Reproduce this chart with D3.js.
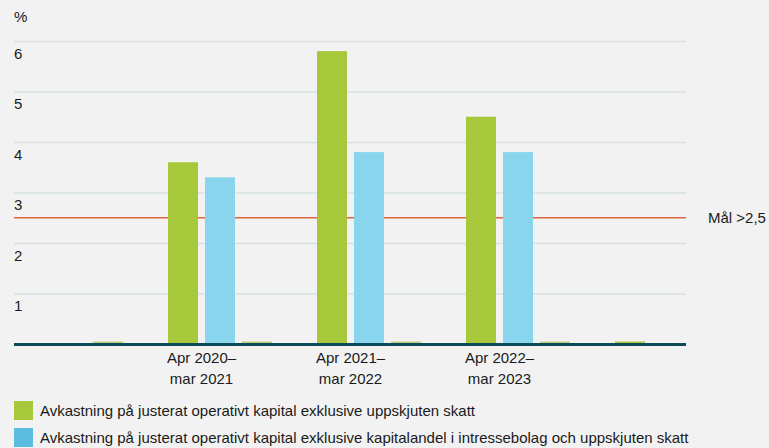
<!DOCTYPE html>
<html>
<head>
<meta charset="utf-8">
<script src="https://cdn.jsdelivr.net/npm/d3@7"></script>
<style>
  body { margin: 0; background: #f2f2f2; }
  svg { display: block; font-family: "Liberation Sans", Arial, sans-serif; }
  .tick line { stroke: #d6e0e4; stroke-width: 1.5; }
  .domain { display: none; }
</style>
</head>
<body>
<script>
// chart values
const categories = ["", "Apr 2020–|mar 2021", "Apr 2021–|mar 2022", "Apr 2022–|mar 2023", ""];
const adjusted = [null, 3.6, 5.8, 4.5, 0];          // green
const adjustedExAssoc = [null, 3.3, 3.8, 3.8, null]; // blue
const emptySeries = [0, 0, 0, 0, null];              // zero bars
const yTicks = [1, 2, 3, 4, 5, 6];
const target = 2.5;
const targetLabel = "Mål >2,5";
const legendLabels = [
  "Avkastning på justerat operativt kapital exklusive uppskjuten skatt",
  "Avkastning på justerat operativt kapital exklusive kapitalandel i intressebolag och uppskjuten skatt"
];

var svgWidth = 769;
var svgHeight = 448;
var plotLeft = 14, plotRight = 686, plotTop = 41, plotBottom = 344;

var svg = d3.select("body").append("svg")
  .attr("width", svgWidth)
  .attr("height", svgHeight);

var yScale = d3.scaleLinear().domain([0, 6]).range([plotBottom, plotTop]);

var xScale = d3.scaleBand()
  .domain(d3.range(categories.length))
  .range([19, 19 + 149 * categories.length])
  .padding(0);

var series = [
  { values: adjusted, color: "#a8c83c" },
  { values: adjustedExAssoc, color: "#8ad5ee" },
  { values: emptySeries, color: "#b9cf7c" }
];

var subScale = d3.scaleBand()
  .domain(d3.range(series.length))
  .range([0, 104])
  .paddingInner(7 / 37)
  .paddingOuter(0);

// gridlines + y labels
var yAxis = svg.append("g")
  .attr("transform", `translate(${plotLeft},0)`)
  .call(d3.axisRight(yScale).tickValues(yTicks).tickSize(plotRight - plotLeft).tickFormat(d3.format("d")));
yAxis.selectAll(".tick text")
  .attr("x", 0)
  .attr("dy", 17)
  .attr("text-anchor", "start")
  .attr("fill", "#1a1a1a")
  .style("font-size", "15px")
  .style("font-family", "Liberation Sans, Arial, sans-serif");

svg.append("text")
  .attr("x", plotLeft)
  .attr("y", 22)
  .attr("font-size", 15)
  .attr("fill", "#1a1a1a")
  .text("%");

// target line
svg.append("line")
  .attr("x1", plotLeft).attr("x2", plotRight)
  .attr("y1", yScale(target)).attr("y2", yScale(target))
  .attr("stroke", "#e0643e").attr("stroke-width", 1.5);

svg.append("text")
  .attr("x", 708)
  .attr("y", yScale(target) + 5)
  .attr("font-size", 15)
  .attr("fill", "#1a1a1a")
  .text(targetLabel);

// bars
series.forEach(function(s, si) {
  var pts = s.values.map((v, i) => ({ i: i, v: v })).filter(d => d.v !== null);
  svg.append("g").selectAll("rect")
    .data(pts)
    .enter()
    .append("rect")
    .attr("x", d => xScale(d.i) + subScale(si))
    .attr("width", subScale.bandwidth())
    .attr("y", d => d.v === 0 ? yScale(0) - 2.5 : yScale(d.v))
    .attr("height", d => d.v === 0 ? 2.5 : yScale(0) - yScale(d.v))
    .attr("fill", s.color);
});

// baseline
svg.append("line")
  .attr("x1", plotLeft).attr("x2", plotRight)
  .attr("y1", yScale(0) + 0.5).attr("y2", yScale(0) + 0.5)
  .attr("stroke", "#0d4a5a").attr("stroke-width", 3);

// category labels
var labelCenter = (subScale(0) + subScale(1) + subScale.bandwidth()) / 2;
categories.forEach(function(c, i) {
  if (!c) return;
  var lines = c.split("|");
  var t = svg.append("text")
    .attr("text-anchor", "middle")
    .attr("font-size", 15)
    .attr("fill", "#1a1a1a");
  lines.forEach(function(l, li) {
    t.append("tspan")
      .attr("x", xScale(i) + labelCenter)
      .attr("y", 363 + li * 21)
      .text(l);
  });
});

// legend
var legendColors = ["#a8c83c", "#5bbde0"];
legendLabels.forEach(function(l, i) {
  var y0 = 401 + i * 27;
  svg.append("rect")
    .attr("x", 14).attr("y", y0)
    .attr("width", 19).attr("height", 19)
    .attr("fill", legendColors[i]);
  svg.append("text")
    .attr("x", 40).attr("y", y0 + 15)
    .attr("font-size", 15)
    .attr("fill", "#1a1a1a")
    .text(l);
});
</script>
</body>
</html>
